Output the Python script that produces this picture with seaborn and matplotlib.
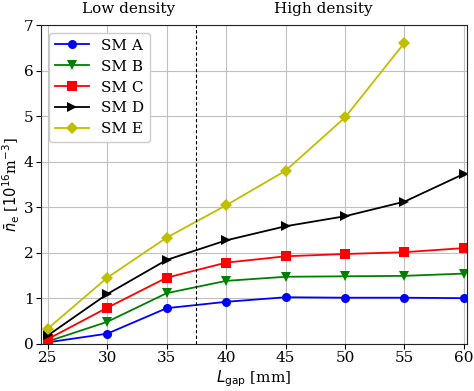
import numpy as np
import pandas as pd
import matplotlib
matplotlib.use("Agg")
import matplotlib.pyplot as plt
import seaborn as sns

gap = [25, 30, 35, 40, 45, 50, 55, 60]
sm_a = [0.03, 0.22, 0.78, 0.92, 1.02, 1.01, 1.01, 1.00]
sm_b = [0.05, 0.48, 1.11, 1.38, 1.47, 1.48, 1.49, 1.54]
sm_c = [0.10, 0.79, 1.45, 1.78, 1.92, 1.97, 2.01, 2.10]
sm_d = [0.18, 1.09, 1.84, 2.27, 2.58, 2.80, 3.12, 3.73]
sm_e_x = [25, 30, 35, 40, 45, 50, 55]
sm_e = [0.33, 1.45, 2.33, 3.04, 3.80, 4.97, 6.61]
series_names = ["SM A", "SM B", "SM C", "SM D", "SM E"]
colors = ["b", "g", "r", "k", "y"]
markers = ["o", "v", "s", ">", "D"]

rows = []
for name, xs, ys in zip(series_names, [gap, gap, gap, gap, sm_e_x], [sm_a, sm_b, sm_c, sm_d, sm_e]):
    for x, y in zip(xs, ys):
        rows.append({"gap": x, "ne": y, "series": name})
df = pd.DataFrame(rows)

plt.rcParams["font.family"] = ["DejaVu Serif"]
plt.rcParams["mathtext.fontset"] = "dejavusans"
fs = 11

fig = plt.figure(figsize=(4.74, 3.91), dpi=100)
ax = fig.add_axes([0.087, 0.121, 0.898, 0.815])
sns.lineplot(data=df, x="gap", y="ne", hue="series", style="series",
             palette=dict(zip(series_names, colors)),
             markers=dict(zip(series_names, markers)), dashes=False,
             markersize=6.5, linewidth=1.3, markeredgewidth=0, ax=ax)
ax.axvline(37.5, color="k", linestyle="--", linewidth=0.8, dashes=(3, 2))
ax.set_xlim(24.45, 60.25)
ax.set_ylim(0, 7)
ax.set_xticks([25, 30, 35, 40, 45, 50, 55, 60])
ax.set_yticks(range(0, 8))
ax.grid(True, color="#c0c0c0", linewidth=0.8)
ax.set_axisbelow(True)
ax.tick_params(labelsize=fs, pad=2)
ax.set_xlabel(r"$L_{\rm gap}$ [mm]", fontsize=fs, labelpad=2)
ax.set_ylabel(r"$\bar{n}_{\rm e}$ [$10^{16}$m$^{-3}$]", fontsize=10.5, labelpad=1)
for s in ax.spines.values():
    s.set_color("#222222")
ax.text(31.8, 7.2, "Low density", ha="center", va="bottom", fontsize=fs)
ax.text(48.2, 7.2, "High density", ha="center", va="bottom", fontsize=fs)
leg = ax.legend(loc="upper left", fontsize=fs, title=None, framealpha=1,
                edgecolor="#cccccc", handlelength=2.2, labelspacing=0.45)
fig.savefig("out.png", dpi=100)
